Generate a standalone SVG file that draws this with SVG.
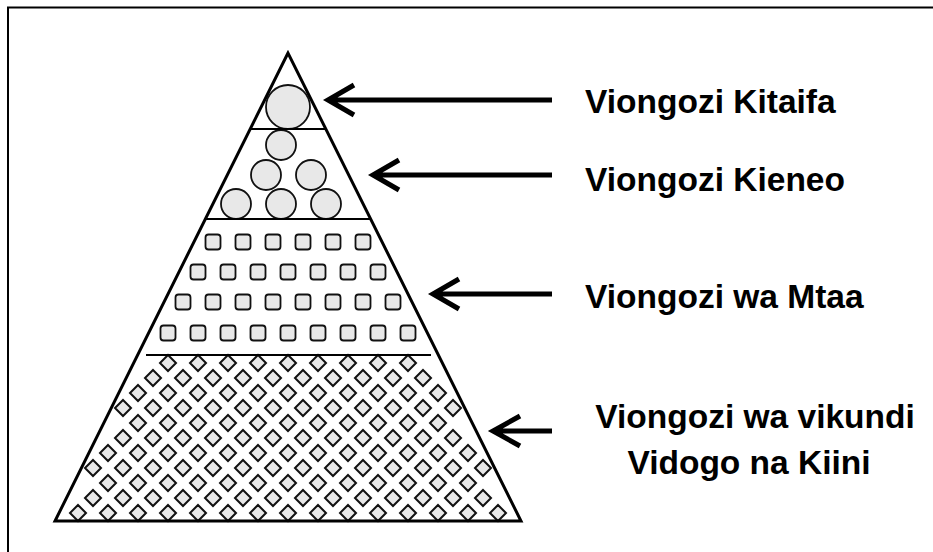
<svg xmlns="http://www.w3.org/2000/svg" xmlns:xlink="http://www.w3.org/1999/xlink" width="933" height="552" viewBox="0 0 933 552">
<defs>
<style>
.lbl{font-family:"Liberation Sans",Arial,sans-serif;font-weight:bold;font-size:33.5px;fill:#000}
.sh{fill:#e8e8e8;stroke:#111;stroke-width:1.8}
.dm{fill:#e8e8e8;stroke:#111;stroke-width:2}
.arr{fill:none;stroke:#000;stroke-width:5;stroke-linejoin:miter}
</style>
<path id="d" class="dm" d="M0,-8 L8,0 L0,8 L-8,0Z"/>
<rect id="s" class="sh" x="-7.5" y="-7.5" width="15" height="15" rx="3"/>
</defs>
<rect width="933" height="552" fill="#fff"/>
<path d="M8,552 V7.5 H933" fill="none" stroke="#000" stroke-width="2"/>

<g id="tier4">
<use href="#d" x="168" y="363"/><use href="#d" x="198" y="363"/><use href="#d" x="228" y="363"/><use href="#d" x="258" y="363"/><use href="#d" x="288" y="363"/><use href="#d" x="318" y="363"/><use href="#d" x="348" y="363"/><use href="#d" x="378" y="363"/><use href="#d" x="408" y="363"/>
<use href="#d" x="153" y="378"/><use href="#d" x="183" y="378"/><use href="#d" x="213" y="378"/><use href="#d" x="243" y="378"/><use href="#d" x="273" y="378"/><use href="#d" x="303" y="378"/><use href="#d" x="333" y="378"/><use href="#d" x="363" y="378"/><use href="#d" x="393" y="378"/><use href="#d" x="423" y="378"/>
<use href="#d" x="138" y="393"/><use href="#d" x="168" y="393"/><use href="#d" x="198" y="393"/><use href="#d" x="228" y="393"/><use href="#d" x="258" y="393"/><use href="#d" x="288" y="393"/><use href="#d" x="318" y="393"/><use href="#d" x="348" y="393"/><use href="#d" x="378" y="393"/><use href="#d" x="408" y="393"/><use href="#d" x="438" y="393"/>
<use href="#d" x="123" y="408"/><use href="#d" x="153" y="408"/><use href="#d" x="183" y="408"/><use href="#d" x="213" y="408"/><use href="#d" x="243" y="408"/><use href="#d" x="273" y="408"/><use href="#d" x="303" y="408"/><use href="#d" x="333" y="408"/><use href="#d" x="363" y="408"/><use href="#d" x="393" y="408"/><use href="#d" x="423" y="408"/><use href="#d" x="453" y="408"/>
<use href="#d" x="138" y="423"/><use href="#d" x="168" y="423"/><use href="#d" x="198" y="423"/><use href="#d" x="228" y="423"/><use href="#d" x="258" y="423"/><use href="#d" x="288" y="423"/><use href="#d" x="318" y="423"/><use href="#d" x="348" y="423"/><use href="#d" x="378" y="423"/><use href="#d" x="408" y="423"/><use href="#d" x="438" y="423"/>
<use href="#d" x="123" y="438"/><use href="#d" x="153" y="438"/><use href="#d" x="183" y="438"/><use href="#d" x="213" y="438"/><use href="#d" x="243" y="438"/><use href="#d" x="273" y="438"/><use href="#d" x="303" y="438"/><use href="#d" x="333" y="438"/><use href="#d" x="363" y="438"/><use href="#d" x="393" y="438"/><use href="#d" x="423" y="438"/><use href="#d" x="453" y="438"/>
<use href="#d" x="108" y="453"/><use href="#d" x="138" y="453"/><use href="#d" x="168" y="453"/><use href="#d" x="198" y="453"/><use href="#d" x="228" y="453"/><use href="#d" x="258" y="453"/><use href="#d" x="288" y="453"/><use href="#d" x="318" y="453"/><use href="#d" x="348" y="453"/><use href="#d" x="378" y="453"/><use href="#d" x="408" y="453"/><use href="#d" x="438" y="453"/><use href="#d" x="468" y="453"/>
<use href="#d" x="93" y="468"/><use href="#d" x="123" y="468"/><use href="#d" x="153" y="468"/><use href="#d" x="183" y="468"/><use href="#d" x="213" y="468"/><use href="#d" x="243" y="468"/><use href="#d" x="273" y="468"/><use href="#d" x="303" y="468"/><use href="#d" x="333" y="468"/><use href="#d" x="363" y="468"/><use href="#d" x="393" y="468"/><use href="#d" x="423" y="468"/><use href="#d" x="453" y="468"/><use href="#d" x="483" y="468"/>
<use href="#d" x="108" y="483"/><use href="#d" x="138" y="483"/><use href="#d" x="168" y="483"/><use href="#d" x="198" y="483"/><use href="#d" x="228" y="483"/><use href="#d" x="258" y="483"/><use href="#d" x="288" y="483"/><use href="#d" x="318" y="483"/><use href="#d" x="348" y="483"/><use href="#d" x="378" y="483"/><use href="#d" x="408" y="483"/><use href="#d" x="438" y="483"/><use href="#d" x="468" y="483"/>
<use href="#d" x="93" y="498"/><use href="#d" x="123" y="498"/><use href="#d" x="153" y="498"/><use href="#d" x="183" y="498"/><use href="#d" x="213" y="498"/><use href="#d" x="243" y="498"/><use href="#d" x="273" y="498"/><use href="#d" x="303" y="498"/><use href="#d" x="333" y="498"/><use href="#d" x="363" y="498"/><use href="#d" x="393" y="498"/><use href="#d" x="423" y="498"/><use href="#d" x="453" y="498"/><use href="#d" x="483" y="498"/>
<use href="#d" x="78" y="513"/><use href="#d" x="108" y="513"/><use href="#d" x="138" y="513"/><use href="#d" x="168" y="513"/><use href="#d" x="198" y="513"/><use href="#d" x="228" y="513"/><use href="#d" x="258" y="513"/><use href="#d" x="288" y="513"/><use href="#d" x="318" y="513"/><use href="#d" x="348" y="513"/><use href="#d" x="378" y="513"/><use href="#d" x="408" y="513"/><use href="#d" x="438" y="513"/><use href="#d" x="468" y="513"/><use href="#d" x="498" y="513"/>
</g>

<g id="tier3">
<use href="#s" x="213" y="242"/><use href="#s" x="243" y="242"/><use href="#s" x="273" y="242"/><use href="#s" x="303" y="242"/><use href="#s" x="333" y="242"/><use href="#s" x="363" y="242"/>
<use href="#s" x="198" y="272"/><use href="#s" x="228" y="272"/><use href="#s" x="258" y="272"/><use href="#s" x="288" y="272"/><use href="#s" x="318" y="272"/><use href="#s" x="348" y="272"/><use href="#s" x="378" y="272"/>
<use href="#s" x="183" y="302"/><use href="#s" x="213" y="302"/><use href="#s" x="243" y="302"/><use href="#s" x="273" y="302"/><use href="#s" x="303" y="302"/><use href="#s" x="333" y="302"/><use href="#s" x="363" y="302"/><use href="#s" x="393" y="302"/>
<use href="#s" x="168" y="333"/><use href="#s" x="198" y="333"/><use href="#s" x="228" y="333"/><use href="#s" x="258" y="333"/><use href="#s" x="288" y="333"/><use href="#s" x="318" y="333"/><use href="#s" x="348" y="333"/><use href="#s" x="378" y="333"/><use href="#s" x="408" y="333"/>
</g>

<g id="tier2">
<circle class="sh" cx="281" cy="145" r="15"/>
<circle class="sh" cx="266" cy="175" r="15"/>
<circle class="sh" cx="311" cy="175" r="15"/>
<circle class="sh" cx="236" cy="204" r="15"/>
<circle class="sh" cx="281" cy="204" r="15"/>
<circle class="sh" cx="326" cy="204" r="15"/>
</g>

<g id="tier1">
<circle class="sh" cx="288" cy="107" r="22"/>
</g>

<g id="pyramid" fill="none" stroke="#000">
<path d="M288,53 L55,521 L521,521 Z" stroke-width="3" stroke-linejoin="miter"/>
<line x1="251" y1="129" x2="325" y2="129" stroke-width="2"/>
<line x1="206" y1="219" x2="371" y2="219" stroke-width="2"/>
<line x1="146" y1="355" x2="431" y2="355" stroke-width="2"/>
</g>

<g id="connectors">
<path class="arr" d="M552,100 H328 M354,85 L328,100 L354,115"/>
<path class="arr" d="M552,175 H373 M399,160 L373,175 L399,190"/>
<path class="arr" d="M552,294 H433 M459,279 L433,294 L459,309"/>
<path class="arr" d="M552,431 H493 M520,416 L493,431 L520,446"/>
</g>

<g id="label-kitaifa"><text class="lbl" x="585" y="113">Viongozi Kitaifa</text></g>
<g id="label-kieneo"><text class="lbl" x="585" y="191">Viongozi Kieneo</text></g>
<g id="label-mtaa"><text class="lbl" x="585" y="308">Viongozi wa Mtaa</text></g>
<g id="label-vikundi">
<text class="lbl" x="755" y="428" text-anchor="middle">Viongozi wa vikundi</text>
<text class="lbl" x="749" y="474" text-anchor="middle">Vidogo na Kiini</text>
</g>
</svg>
